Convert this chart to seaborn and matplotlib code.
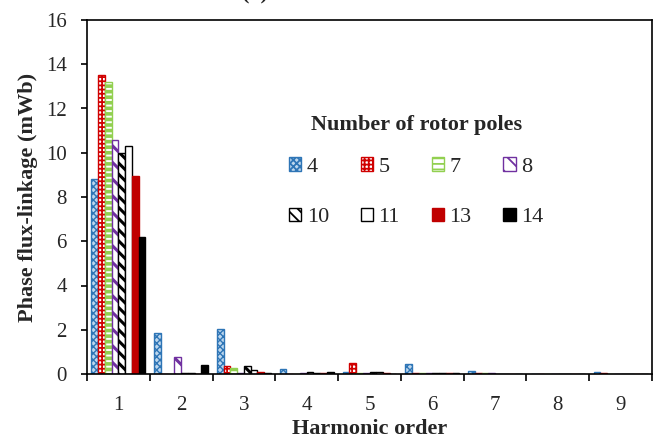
import numpy as np
import pandas as pd
import matplotlib
matplotlib.use("Agg")
import matplotlib.pyplot as plt
import seaborn as sns

# Harmonic orders on the x axis
harmonics = ["1", "2", "3", "4", "5", "6", "7", "8", "9"]

# Phase flux-linkage amplitude (mWb) per harmonic, one list per rotor-pole count
poles_4 = [8.82, 1.84, 2.04, 0.21, 0.07, 0.45, 0.13, 0.02, 0.08]
poles_5 = [13.50, 0.02, 0.38, 0.02, 0.50, 0.03, 0.06, 0.02, 0.03]
poles_7 = [13.18, 0.02, 0.29, 0.02, 0.05, 0.03, 0.05, 0.02, 0.02]
poles_8 = [10.59, 0.75, 0.05, 0.03, 0.03, 0.03, 0.05, 0.02, 0.02]
poles_10 = [10.00, 0.05, 0.35, 0.10, 0.08, 0.03, 0.02, 0.02, 0.02]
poles_11 = [10.30, 0.03, 0.20, 0.05, 0.08, 0.03, 0.02, 0.02, 0.02]
poles_13 = [8.96, 0.02, 0.08, 0.03, 0.03, 0.03, 0.02, 0.02, 0.02]
poles_14 = [6.17, 0.40, 0.03, 0.07, 0.02, 0.03, 0.02, 0.02, 0.02]

pole_labels = ["4", "5", "7", "8", "10", "11", "13", "14"]
series = [poles_4, poles_5, poles_7, poles_8, poles_10, poles_11, poles_13, poles_14]

rows = []
for lab, vals in zip(pole_labels, series):
    for h, v in zip(harmonics, vals):
        rows.append({"Harmonic": h, "Poles": lab, "Flux": v})
df = pd.DataFrame(rows)

sns.set_style("white")
plt.rcParams["font.family"] = ["Liberation Serif", "DejaVu Serif"]
plt.rcParams["hatch.linewidth"] = 1.3

fig = plt.figure(figsize=(6.57, 4.40), dpi=100)
ax = fig.add_axes([87 / 657, 1 - 374 / 440, (652 - 87) / 657, (374 - 20) / 440])

sns.barplot(data=df, x="Harmonic", y="Flux", hue="Poles", order=harmonics,
            hue_order=pole_labels, width=0.86, gap=0, ax=ax, legend=False,
            errorbar=None)

# (face, edge/hatch colour, hatch, hatch linewidth)
styles = [
    ("#BDD7EE", "#2E75B6", "xxxxx", 1.0),
    ("white", "#D00000", "++++", 1.3),
    ("white", "#92D050", "---", 2.6),
    ("white", "#7030A0", "\\\\", 2.2),
    ("white", "black", "\\\\\\", 2.2),
    ("white", "black", None, 1.0),
    ("#C00000", "#C00000", None, 1.0),
    ("black", "black", None, 1.0),
]
for cont, (fc, ec, hatch, hlw) in zip(ax.containers, styles):
    for p in cont.patches:
        p.set_facecolor(fc)
        p.set_edgecolor(ec)
        p.set_linewidth(1.0)
        if hatch:
            p.set_hatch(hatch)
            if hasattr(p, "set_hatch_linewidth"):
                p.set_hatch_linewidth(hlw)

ax.set_ylim(0, 16)
ax.set_xlim(-0.5, 8.5)
ax.set_yticks(np.arange(0, 17, 2))
ax.set_yticklabels([str(v) for v in range(0, 17, 2)], fontsize=15)

# category boundaries carry the tick marks, labels sit at the centres
ax.set_xticks(np.arange(-0.5, 9, 1.0))
ax.set_xticklabels([])
ax.set_xticks(np.arange(9), minor=True)
ax.set_xticklabels(harmonics, minor=True, fontsize=15)
ax.tick_params(axis="x", which="major", direction="out", length=5, width=1.2,
               color="black", bottom=True)
ax.tick_params(axis="x", which="minor", length=0, pad=16)
ax.tick_params(axis="y", direction="out", length=4.5, width=1.2, color="black",
               left=True, pad=10)

for s in ax.spines.values():
    s.set_visible(True)
    s.set_color("black")
    s.set_linewidth(1.2)

ax.set_xlabel("Harmonic order", fontsize=16, fontweight="bold", labelpad=3)
ax.set_ylabel("Phase flux-linkage (mWb)", fontsize=16, fontweight="bold", labelpad=6)

# legend filled row by row: 4 5 7 8 / 10 11 13 14
order = [0, 4, 1, 5, 2, 6, 3, 7]
leg = ax.legend([ax.containers[i] for i in order], [pole_labels[i] for i in order],
                ncol=4, frameon=False,
                loc="upper left", bbox_to_anchor=(289 / 657, 1 - 115 / 440),
                bbox_transform=fig.transFigure, fontsize=16,
                title="Number of rotor poles",
                title_fontproperties={"weight": "bold", "size": 16},
                handlelength=0.55, handleheight=0.55, handletextpad=0.25,
                columnspacing=1.43, labelspacing=1.4, borderpad=0, borderaxespad=0)
leg._legend_box.sep = 16

fig.text(255 / 657, 1 - 4 / 440, "(a)", fontsize=16, fontweight="bold",
         ha="center", va="bottom")

fig.savefig("out.png", dpi=100)
